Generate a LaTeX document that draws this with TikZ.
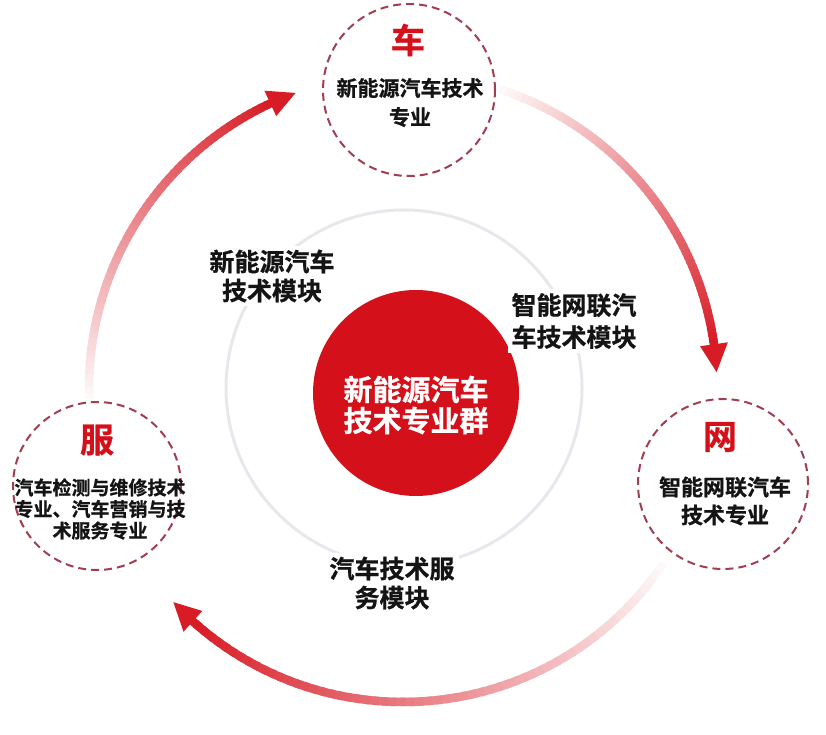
\documentclass[tikz,border=0pt]{standalone}
\usepackage{fontspec}
\newfontfamily\cjkb{Noto Sans CJK SC Bold}[FakeBold=0.8]
\usetikzlibrary{arrows.meta}
\definecolor{arrowred}{RGB}{216,28,38}
\definecolor{corered}{RGB}{212,16,26}
\definecolor{dashred}{RGB}{160,62,82}
\definecolor{ringgray}{RGB}{230,232,236}
\definecolor{txt}{RGB}{20,20,20}
\begin{document}
\begin{tikzpicture}[x=1pt,y=1pt,
  sat/.style={circle, draw=dashred, line width=2pt, dash pattern=on 8pt off 5pt, minimum size=#1, inner sep=0pt},
  lbl/.style={fill=white, align=center, text=txt, inner sep=4pt, font=\cjkb\fontsize{25}{29}\selectfont},
  sattxt/.style={align=center, text=txt, inner sep=0pt},
  bigchar/.style={text=corered, inner sep=0pt, font=\cjkb\fontsize{34}{36}\selectfont},
  arrowhead/.style={fill=arrowred, draw=none}]
\fill[white] (0,0) rectangle (826,734);
\useasboundingbox (0,0) rectangle (826,734);
\coordinate (C) at (403,346);

% gradient arcs
\foreach \s/\e in {72/8, -34/-132, 182/115}{
  \foreach \i in {0,...,59}{
    \pgfmathsetmacro\a{\s+(\e-\s)*\i/60}
    \pgfmathsetmacro\b{\s+(\e-\s)*(\i+1.6)/60}
    \pgfmathsetmacro\c{3+97*(\i/59)}
    \draw[line width=8.5pt, arrowred!\c!white] ([shift={(\a:314pt)}]C) arc[start angle=\a, end angle=\b, radius=314pt];
  }
}
% arrow heads
\fill[arrowhead] ([shift={(8:328pt)}]C) -- ([shift={(2.9:314pt)}]C) -- ([shift={(8:300pt)}]C) -- cycle;
\fill[arrowhead] ([shift={(-132:328pt)}]C) -- ([shift={(-137:314pt)}]C) -- ([shift={(-132:300pt)}]C) -- cycle;
\fill[arrowhead] ([shift={(115:328pt)}]C) -- ([shift={(110:314pt)}]C) -- ([shift={(115:300pt)}]C) -- cycle;

% inner gray ring
\node[circle, draw=ringgray, line width=3pt, minimum size=356pt, inner sep=0pt] (ring) at (404,346) {};

% core
\node[circle, fill=corered, minimum size=206pt, inner sep=0pt] (core) at (416,341) {};
\node[align=center, text=white, inner sep=0pt, font=\cjkb\fontsize{29}{31}\selectfont] (coretxt) at (416,329) {新能源汽车\\技术专业群};

% module labels
\node[lbl] (m1) at (272,458) {新能源汽车\\技术模块};
\node[lbl, font=\cjkb\fontsize{25}{32}\selectfont] (m2) at (574,413) {智能网联汽\\车技术模块};
\node[lbl] (m3) at (392,151) {汽车技术服\\务模块};

% satellites
\node[sat=172pt] (che) at (409,644) {};
\node[bigchar] (chechar) at (408,694) {车};
\node[sattxt, font=\cjkb\fontsize{21}{29}\selectfont] (chetxt) at (410,631.5) {新能源汽车技术\\专业};

\node[sat=170pt] (wang) at (723,250) {};
\node[bigchar] (wangchar) at (720,297) {网};
\node[sattxt, font=\cjkb\fontsize{22}{28}\selectfont] (wangtxt) at (725,233) {智能网联汽车\\技术专业};

\node[sat=168pt] (fu) at (97,248) {};
\node[bigchar] (fuchar) at (97,294) {服};
\node[sattxt, font=\cjkb\fontsize{19}{21.5}\selectfont] (futxt) at (100,225) {汽车检测与维修技术\\专业、汽车营销与技\\术服务专业};
\end{tikzpicture}
\end{document}
